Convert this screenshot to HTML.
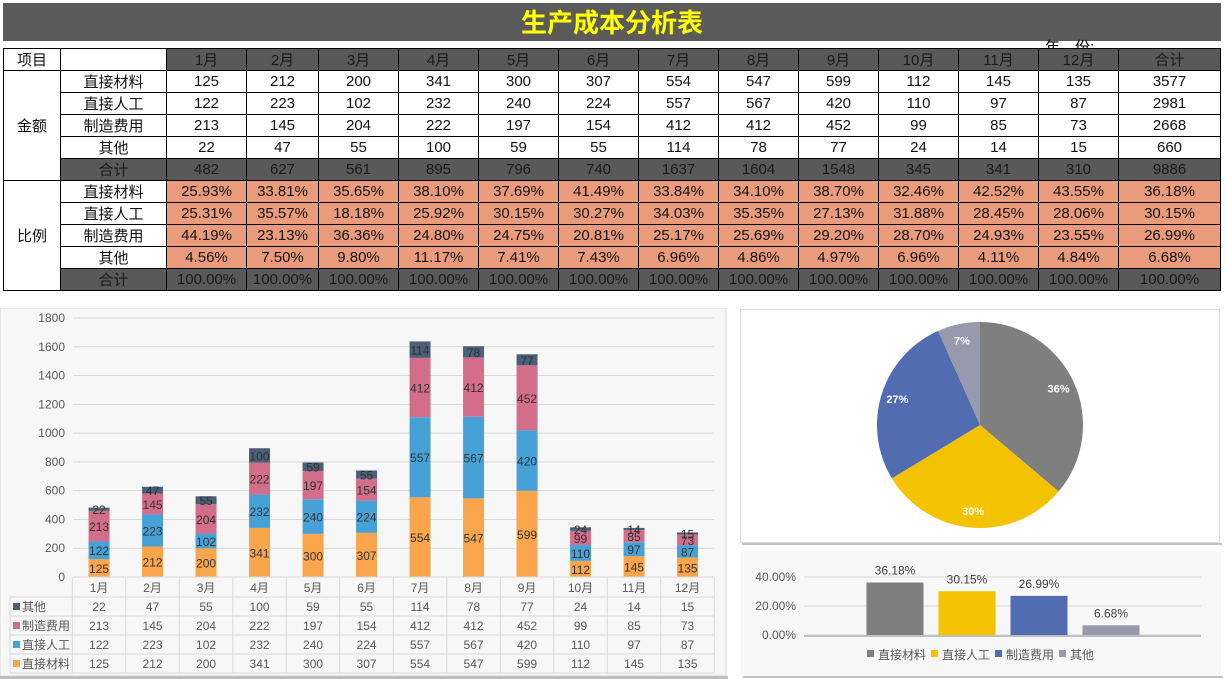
<!DOCTYPE html>
<html><head><meta charset="utf-8">
<style>
body{margin:0;width:1225px;height:679px;background:#fff;position:relative;overflow:hidden;font-family:"Liberation Sans","Noto Sans CJK SC",sans-serif;}
#title{position:absolute;left:3px;top:3px;width:1218px;height:38px;background:#5b5b5b;color:#ffff00;font-size:26px;font-weight:bold;text-align:center;line-height:40px;}
#year{position:absolute;left:1045px;top:36px;font-size:15px;color:#000;}
table{position:absolute;left:3px;top:48px;border-collapse:collapse;font-size:15px;}
td{border:1.5px solid #000;height:21px;padding:0;text-align:center;color:#111;}
td.d{background:#595959;color:#1a1a1a;}
td.p{background:#e99b7b;}
.box{position:absolute;}
</style></head><body>
<div id="title">生产成本分析表</div>
<div id="year">年　份:</div>
<table>
<colgroup><col style="width:57px"><col style="width:106px"><col style="width:80px"><col style="width:72px"><col style="width:80px"><col style="width:80px"><col style="width:80px"><col style="width:80px"><col style="width:80px"><col style="width:80px"><col style="width:80px"><col style="width:80px"><col style="width:80px"><col style="width:80px"><col style="width:102px"></colgroup>
<tbody id="tb"></tbody></table>

<svg class="box" style="left:0;top:308px" width="728" height="371" id="sc"></svg>
<svg class="box" style="left:740px;top:309px" width="482" height="236" id="pc"></svg>
<svg class="box" style="left:741px;top:551px" width="482" height="127" id="bc"></svg>

<script>
const months=['1月','2月','3月','4月','5月','6月','7月','8月','9月','10月','11月','12月'];
const seriesNames=['直接材料','直接人工','制造费用','其他'];
const material=[125,212,200,341,300,307,554,547,599,112,145,135];
const labor=[122,223,102,232,240,224,557,567,420,110,97,87];
const overhead=[213,145,204,222,197,154,412,412,452,99,85,73];
const other=[22,47,55,100,59,55,114,78,77,24,14,15];
const yTicks=[0,200,400,600,800,1000,1200,1400,1600,1800];
const ratioTicks=[0,20,40];
const NS='http://www.w3.org/2000/svg';
function mk(p,t,a,txt){const e=document.createElementNS(NS,t);for(const k in a)e.setAttribute(k,a[k]);if(txt!==undefined)e.textContent=txt;p.appendChild(e);return e;}
const series=[material,labor,overhead,other];
const totals=months.map((m,i)=>series.reduce((s,a)=>s+a[i],0));
const sums=series.map(a=>a.reduce((s,v)=>s+v,0));
const grand=sums.reduce((a,b)=>a+b,0);

// table
const tb=document.getElementById('tb');
function row(cells){const tr=document.createElement('tr');cells.forEach(c=>{const td=document.createElement('td');td.textContent=c.t;if(c.c)td.className=c.c;if(c.rs)td.rowSpan=c.rs;tr.appendChild(td);});tb.appendChild(tr);return tr;}
row([{t:'项目'},{t:''}].concat(months.map(m=>({t:m,c:'d'}))).concat([{t:'合计',c:'d'}]));
seriesNames.forEach((n,s)=>{const c=[];if(s==0)c.push({t:'金额',rs:5});c.push({t:n});series[s].forEach(v=>c.push({t:v}));c.push({t:sums[s]});row(c);});
row([{t:'合计',c:'d'}].concat(totals.map(v=>({t:v,c:'d'}))).concat([{t:grand,c:'d'}]));
seriesNames.forEach((n,s)=>{const c=[];if(s==0)c.push({t:'比例',rs:5});c.push({t:n});series[s].forEach((v,i)=>c.push({t:(v/totals[i]*100).toFixed(2)+'%',c:'p'}));c.push({t:(sums[s]/grand*100).toFixed(2)+'%',c:'p'});row(c);});
row([{t:'合计',c:'d'}].concat(totals.map(v=>({t:'100.00%',c:'d'}))).concat([{t:'100.00%',c:'d'}]));

// stacked chart
const sc=document.getElementById('sc');
mk(sc,'rect',{x:0,y:0,width:726,height:368,fill:'#f7f7f7',stroke:'#d9d9d9'});
mk(sc,'rect',{x:0,y:368,width:728,height:3,fill:'#bfbfbf'});
const y0=269,ppu=259/1800,x0=72.3,cw=53.5;
const ys=v=>y0-v*ppu,xc=i=>x0+cw*(i+0.5);
yTicks.forEach(t=>{if(t>0)mk(sc,'line',{x1:73,x2:714,y1:ys(t),y2:ys(t),stroke:'#d9d9d9'});
 const l=mk(sc,'text',{x:65,y:ys(t)+4,'text-anchor':'end','font-size':12,fill:'#595959'},t);});
const colors=['#f9a54c','#46a2d6','#d26e8b','#4b5f78'];
months.forEach((m,i)=>{let base=0;series.forEach((a,s)=>{const v=a[i];const r=mk(sc,'rect',{x:xc(i)-10.5,y:ys(base+v),width:21,height:v*ppu,fill:colors[s]});
 
 mk(sc,'text',{x:xc(i),y:ys(base+v/2)+5,'text-anchor':'middle','font-size':12,fill:'#333'},v);base+=v;});});
// data table
const rowY=[269,289,308,327,346,365];
mk(sc,'line',{x1:73,x2:714,y1:269,y2:269,stroke:'#d9d9d9'});
for(let r=1;r<6;r++)mk(sc,'line',{x1:10,x2:714,y1:rowY[r],y2:rowY[r],stroke:'#d9d9d9'});
mk(sc,'line',{x1:10,x2:10,y1:289,y2:365,stroke:'#d9d9d9'});
for(let i=0;i<=12;i++)mk(sc,'line',{x1:x0+cw*i,x2:x0+cw*i,y1:269,y2:365,stroke:'#d9d9d9'});
months.forEach((m,i)=>mk(sc,'text',{x:xc(i),y:284,'text-anchor':'middle','font-size':12,fill:'#595959'},m));
[3,2,1,0].forEach((s,r)=>{const yy=rowY[r+1]+14;mk(sc,'rect',{x:13,y:yy-8,width:7,height:7,fill:colors[s]});
 mk(sc,'text',{x:22,y:yy,'font-size':12,fill:'#595959'},seriesNames[s]);
 series[s].forEach((v,i)=>mk(sc,'text',{x:xc(i),y:yy,'text-anchor':'middle','font-size':12,fill:'#595959'},v));});

// pie
const pc=document.getElementById('pc');
mk(pc,'rect',{x:0.5,y:0.5,width:479,height:233,fill:'#fff',stroke:'#d9d9d9'});
mk(pc,'rect',{x:2,y:234,width:480,height:2,fill:'#c0c0c0'});
const pcol=['#7f7f7f','#f3c200','#516cb0','#9899ad'];
const cx=240,cy=116,R=103;let ang=0;
sums.forEach((v,s)=>{const a0=ang,a1=ang+v/grand*2*Math.PI;ang=a1;
 const p=(a)=>[cx+R*Math.sin(a),cy-R*Math.cos(a)];const [x1,y1]=p(a0),[x2,y2]=p(a1);
 const sl=mk(pc,'path',{d:`M${cx},${cy}L${x1},${y1}A${R},${R} 0 ${a1-a0>Math.PI?1:0} 1 ${x2},${y2}Z`,fill:pcol[s]});
 
 const am=(a0+a1)/2,lr=R*0.84;
 mk(pc,'text',{x:cx+lr*Math.sin(am),y:cy-lr*Math.cos(am)+4,'text-anchor':'middle','font-size':11,'font-weight':'bold',fill:'#fff'},Math.round(v/grand*100)+'%');});

// ratio bar chart
const bc=document.getElementById('bc');
mk(bc,'rect',{x:0,y:0,width:480,height:125,fill:'#f7f7f7'});
mk(bc,'rect',{x:2,y:125,width:480,height:2,fill:'#c0c0c0'});
const by0=84,bppu=29/20;
ratioTicks.forEach(t=>{mk(bc,'line',{x1:63,x2:460,y1:by0-t*bppu,y2:by0-t*bppu,stroke:'#d9d9d9'});
 mk(bc,'text',{x:55,y:by0-t*bppu+4,'text-anchor':'end','font-size':12,fill:'#595959'},t.toFixed(2)+'%');});
mk(bc,'line',{x1:63,x2:460,y1:by0+1,y2:by0+1,stroke:'#bfbfbf','stroke-width':2});
sums.forEach((v,s)=>{const pct=v/grand*100,xx=154+s*72;
 const b=mk(bc,'rect',{x:xx-28.5,y:by0-pct*bppu,width:57,height:pct*bppu,fill:pcol[s]});
 
 mk(bc,'text',{x:xx,y:by0-pct*bppu-8,'text-anchor':'middle','font-size':12,fill:'#404040'},pct.toFixed(2)+'%');});
const lx=[126,190,254,318];
seriesNames.forEach((n,s)=>{mk(bc,'rect',{x:lx[s],y:99,width:7,height:7,fill:pcol[s]});
 const t=mk(bc,'text',{x:lx[s]+11,y:108,'font-size':12,fill:'#595959'},n);});
</script>
</body></html>
